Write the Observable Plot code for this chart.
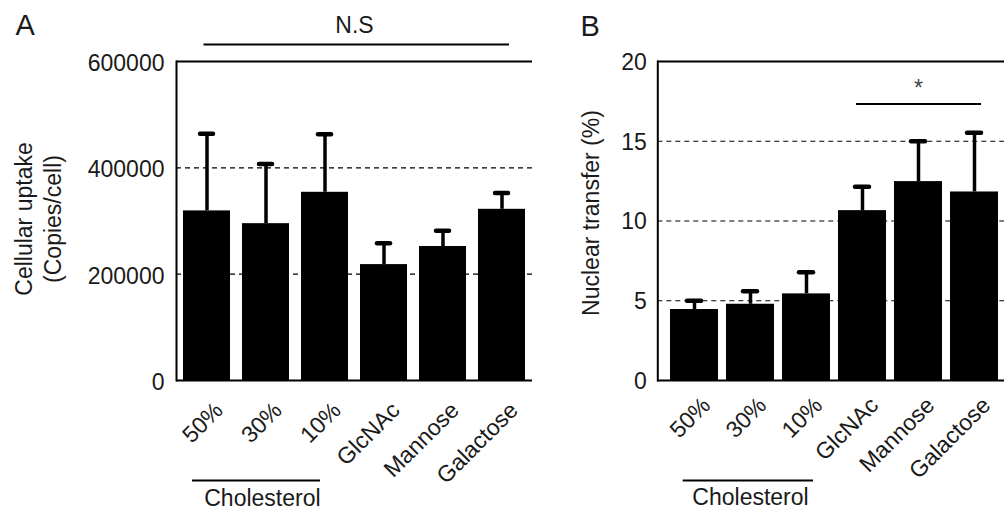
<!DOCTYPE html>
<html><head><meta charset="utf-8">
<script src="https://cdn.jsdelivr.net/npm/d3@7"></script>
<script src="https://cdn.jsdelivr.net/npm/@observablehq/plot@0.6"></script>
<style>
body{margin:0;background:#fff;}
#wrap{display:flex;width:1004px;height:511px;overflow:hidden;background:#fff;}
#wrap svg{flex:none;}
</style></head><body><div id="wrap"></div>
<script>
const categories = ["50%", "30%", "10%", "GlcNAc", "Mannose", "Galactose"];
const uptakeMean = [319000, 295000, 354000, 218000, 252000, 322000];
const uptakeSD = [145000, 112000, 109000, 40000, 29500, 30500];
const nuclearMean = [4.45, 4.78, 5.43, 10.65, 12.47, 11.82];
const nuclearSD = [0.55, 0.82, 1.36, 1.50, 2.53, 3.72];
const uptakeTicks = [0, 200000, 400000, 600000];
const nuclearTicks = [0, 5, 10, 15, 20];
const uptakeGrid = [200000, 400000];
const nuclearGrid = [5, 10, 15];
const panelLabels = ["A", "B"];
const yLabelA = "Cellular uptake\n(Copies/cell)";
const yLabelB = "Nuclear transfer (%)";
const groupLabel = "Cholesterol";
const sigA = "N.S";
const sigB = "*";

const font = "'Liberation Sans', Arial, Helvetica, sans-serif";
const ink = "#1a1a1a";
const rowsA = categories.map((c, i) => ({cat: c, mean: uptakeMean[i], top: uptakeMean[i] + uptakeSD[i]}));
const rowsB = categories.map((c, i) => ({cat: c, mean: nuclearMean[i], top: nuclearMean[i] + nuclearSD[i]}));

const plotA = Plot.plot({
  width: 540, height: 511,
  marginLeft: 176, marginRight: 8, marginTop: 61, marginBottom: 131,
  style: {fontFamily: font, fontSize: "23px", color: ink, background: "white", overflow: "visible"},
  x: {domain: categories, paddingInner: 0.2, paddingOuter: 0.1, axis: null},
  y: {domain: [0, 600000], axis: null},
  marks: [
    Plot.ruleY(uptakeGrid, {stroke: "#000", strokeWidth: 1.2, strokeDasharray: "5,4"}),
    Plot.barY(rowsA, {x: "cat", y: "mean", fill: "#000"}),
    Plot.ruleX(rowsA, {x: "cat", y1: "mean", y2: "top", stroke: "#000", strokeWidth: 3.5}),
    Plot.tickY(rowsA, {x: "cat", y: "top", stroke: "#000", strokeWidth: 4.5, strokeLinecap: "round", inset: 17}),
    Plot.ruleY([600000], {stroke: "#000", strokeWidth: 2}),
    Plot.ruleY([0], {stroke: "#000", strokeWidth: 2}),
    Plot.frame({anchor: "left", stroke: "#000", strokeWidth: 2}),
    Plot.axisY(uptakeTicks, {tickSize: 0, tickPadding: 12, tickFormat: d => String(d), label: null, fontSize: 23, dy: 2, fill: ink}),
    Plot.text(rowsA, {x: "cat", text: "cat", frameAnchor: "bottom", rotate: -45, textAnchor: "end", lineAnchor: "middle", dx: 12, dy: 26, fontSize: 23, fill: ink}),
    Plot.ruleY([0], {x1: () => categories[0], x2: () => categories[2], dy: 100, insetLeft: 9, insetRight: 28, stroke: "#000", strokeWidth: 2}),
    Plot.text([groupLabel], {x: () => categories[1], frameAnchor: "bottom", dx: -3.6, dy: 118, lineAnchor: "middle", fontSize: 23, fill: ink}),
    Plot.ruleY([600000], {x1: () => categories[0], x2: () => categories[5], dy: -17, insetLeft: 20.5, insetRight: 16, stroke: "#000", strokeWidth: 2}),
    Plot.text([sigA], {frameAnchor: "top", dy: -35.8, lineAnchor: "middle", fontSize: 23, fill: ink}),
    Plot.text([panelLabels[0]], {frameAnchor: "top-left", textAnchor: "start", lineAnchor: "middle", dx: -161, dy: -36, fontSize: 29, fill: ink}),
    Plot.text([yLabelA], {frameAnchor: "left", rotate: -90, textAnchor: "middle", lineAnchor: "middle", lineHeight: 1.26, dx: -139.5, dy: -2, fontSize: 23, fill: ink})
  ]
});

const plotB = Plot.plot({
  width: 464, height: 511,
  marginLeft: 117.3, marginRight: 0, marginTop: 61, marginBottom: 131,
  style: {fontFamily: font, fontSize: "23px", color: ink, background: "white", overflow: "visible"},
  x: {domain: categories, paddingInner: 0.15, paddingOuter: 0.075, insetLeft: 6.7, axis: null},
  y: {domain: [0, 20], axis: null},
  marks: [
    Plot.ruleY(nuclearGrid, {stroke: "#000", strokeWidth: 1.2, strokeDasharray: "5,4"}),
    Plot.barY(rowsB, {x: "cat", y: "mean", fill: "#000"}),
    Plot.ruleX(rowsB, {x: "cat", y1: "mean", y2: "top", stroke: "#000", strokeWidth: 3.5}),
    Plot.tickY(rowsB, {x: "cat", y: "top", stroke: "#000", strokeWidth: 4.5, strokeLinecap: "round", inset: 17}),
    Plot.ruleY([20], {stroke: "#000", strokeWidth: 2}),
    Plot.ruleY([0], {stroke: "#000", strokeWidth: 2}),
    Plot.frame({anchor: "left", stroke: "#000", strokeWidth: 2}),
    Plot.axisY(nuclearTicks, {tickSize: 0, tickPadding: 11, tickFormat: d => String(d), label: null, fontSize: 23, dy: 1, fill: ink}),
    Plot.text(rowsB, {x: "cat", text: "cat", frameAnchor: "bottom", rotate: -45, textAnchor: "end", lineAnchor: "middle", dx: 12, dy: 21, fontSize: 23, fill: ink}),
    Plot.ruleY([0], {x1: () => categories[0], x2: () => categories[2], dy: 100, insetLeft: 12.7, insetRight: 17, stroke: "#000", strokeWidth: 2}),
    Plot.text([groupLabel], {x: () => categories[1], frameAnchor: "bottom", dy: 117.5, lineAnchor: "middle", fontSize: 23, fill: ink}),
    Plot.ruleY([20], {x1: () => categories[3], x2: () => categories[5], dy: 42.5, insetLeft: 18, insetRight: 17, stroke: "#000", strokeWidth: 2}),
    Plot.text([sigB], {x: () => categories[4], y: () => 20, dy: 27, lineAnchor: "middle", fontSize: 23, fill: "#444"}),
    Plot.text([panelLabels[1]], {frameAnchor: "top-left", textAnchor: "start", lineAnchor: "middle", dx: -77.3, dy: -35, fontSize: 29, fill: ink}),
    Plot.text([yLabelB], {frameAnchor: "left", rotate: -90, textAnchor: "middle", lineAnchor: "middle", dx: -66.3, dy: -8, fontSize: 23, fill: ink})
  ]
});

const wrap = document.getElementById("wrap");
wrap.appendChild(plotA);
wrap.appendChild(plotB);
</script>
</body></html>
